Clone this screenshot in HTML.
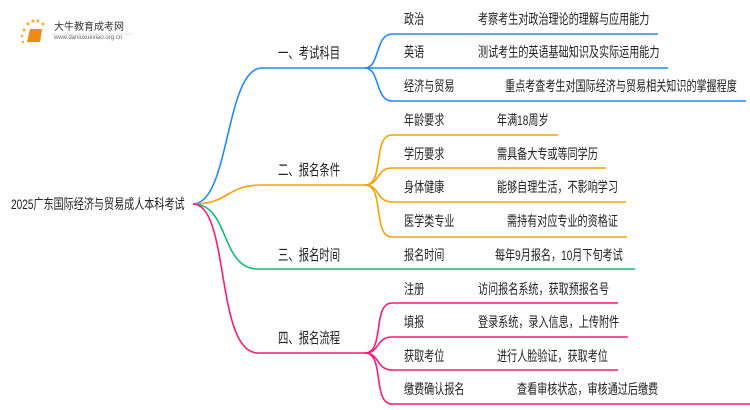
<!DOCTYPE html>
<html><head><meta charset="utf-8"><style>
body{margin:0;width:750px;height:410px;background:#fff;overflow:hidden;position:relative;font-family:"Liberation Sans","Noto Sans CJK SC",sans-serif;color:#222}
.t{position:absolute;font-size:14px;white-space:nowrap;line-height:16px;transform:scaleX(0.72);transform-origin:0 0}
.h{font-size:15px;transform:scaleX(0.69)}
svg{position:absolute;left:0;top:0}
</style></head><body>
<svg width="750" height="410">
<g fill="none" stroke-width="1.6">
<path d="M193 204 C230 204 225 68 262 68 L365 68" stroke="#1e88ff"/>
<path d="M365 68 C380 68 375 34 392 34 L658 34" stroke="#1e88ff"/>
<path d="M365 68 L668 68" stroke="#1e88ff"/>
<path d="M365 68 C380 68 375 101 392 101 L746 101" stroke="#1e88ff"/>
<path d="M193 204 C230 204 225 185 262 185 L365 185" stroke="#f5a300"/>
<path d="M365 185 C385 185 372 135 392 135 L558 135" stroke="#f5a300"/>
<path d="M365 185 C380 185 376 168 392 168 L606 168" stroke="#f5a300"/>
<path d="M365 185 C380 185 376 202 392 202 L626 202" stroke="#f5a300"/>
<path d="M365 185 C385 185 372 237 392 237 L627 237" stroke="#f5a300"/>
<path d="M193 204 C230 204 220 269 258 269 L635 269" stroke="#10c070"/>
<path d="M193 204 C230 204 215 353 258 353 L365 353" stroke="#ff1a75"/>
<path d="M365 353 C385 353 372 303 392 303 L618 303" stroke="#ff1a75"/>
<path d="M365 353 C380 353 376 337 392 337 L628 337" stroke="#ff1a75"/>
<path d="M365 353 C380 353 376 370 392 370 L618 370" stroke="#ff1a75"/>
<path d="M365 353 C385 353 372 404 392 404 L750 404" stroke="#ff1a75"/>
</g>
<g fill="#f5b020"><circle cx="24" cy="30" r="1.5"/><circle cx="28" cy="24" r="1.5"/><circle cx="33" cy="21" r="1.5"/><circle cx="38" cy="21" r="1.5"/><circle cx="43" cy="24" r="1.5"/><circle cx="22" cy="36" r="1.2"/><circle cx="23" cy="42" r="1.2"/></g>
<path d="M30 29 L42 29 L40 42 L27 42 Z" fill="#f08a10"/>
<line x1="52" y1="34" x2="132" y2="34" stroke="#ccc" stroke-width="0.6"/>
</svg>
<div class="t" style="left:54px;top:20px;font-size:10px;color:#333;transform:none">大牛教育成考网</div>
<div class="t" style="left:54px;top:34px;font-size:6px;line-height:8px;color:#666;transform:none">www.daniuxuexiao.org.cn</div>

<div class="t" style="left:11px;top:196px">2025广东国际经济与贸易成人本科考试</div>
<div class="t h" style="left:278px;top:46px">一、考试科目</div>
<div class="t h" style="left:278px;top:163px">二、报名条件</div>
<div class="t h" style="left:278px;top:248px">三、报名时间</div>
<div class="t h" style="left:278px;top:331px">四、报名流程</div>

<div class="t" style="left:404px;top:11px">政治</div><div class="t" style="left:478px;top:11px">考察考生对政治理论的理解与应用能力</div>
<div class="t" style="left:404px;top:44px">英语</div><div class="t" style="left:478px;top:44px">测试考生的英语基础知识及实际运用能力</div>
<div class="t" style="left:404px;top:78px">经济与贸易</div><div class="t" style="left:505px;top:78px">重点考查考生对国际经济与贸易相关知识的掌握程度</div>
<div class="t" style="left:404px;top:112px">年龄要求</div><div class="t" style="left:497px;top:112px">年满18周岁</div>
<div class="t" style="left:404px;top:146px">学历要求</div><div class="t" style="left:497px;top:146px">需具备大专或等同学历</div>
<div class="t" style="left:404px;top:179px">身体健康</div><div class="t" style="left:497px;top:179px">能够自理生活，不影响学习</div>
<div class="t" style="left:404px;top:213px">医学类专业</div><div class="t" style="left:507px;top:213px">需持有对应专业的资格证</div>
<div class="t" style="left:404px;top:247px">报名时间</div><div class="t" style="left:495px;top:247px">每年9月报名，10月下旬考试</div>
<div class="t" style="left:404px;top:281px">注册</div><div class="t" style="left:478px;top:281px">访问报名系统，获取预报名号</div>
<div class="t" style="left:404px;top:314px">填报</div><div class="t" style="left:478px;top:314px">登录系统，录入信息，上传附件</div>
<div class="t" style="left:404px;top:348px">获取考位</div><div class="t" style="left:497px;top:348px">进行人脸验证，获取考位</div>
<div class="t" style="left:404px;top:381px">缴费确认报名</div><div class="t" style="left:517px;top:381px">查看审核状态，审核通过后缴费</div>
</body></html>
